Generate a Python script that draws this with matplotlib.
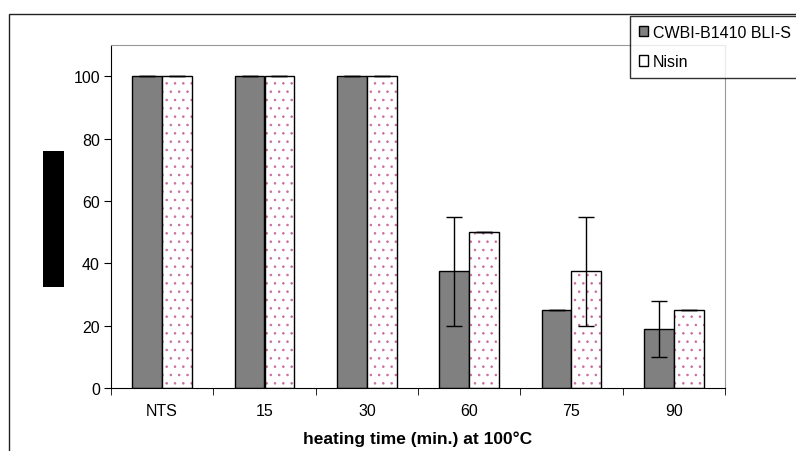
import matplotlib.pyplot as plt
import matplotlib.patches as mpatches
import numpy as np

plt.rcParams['font.family'] = ['Liberation Sans', 'DejaVu Sans']
plt.rcParams['hatch.linewidth'] = 0.6

categories = ['NTS', '15', '30', '60', '75', '90']
cwbi = [100, 100, 100, 37.5, 25, 19]
cwbi_err = [0, 0, 0, 17.5, 0, 9]
nisin = [100, 100, 100, 50, 37.5, 25]
nisin_err = [0, 0, 0, 0, 17.5, 0]
series_names = ['CWBI-B1410 BLI-S', 'Nisin']

fig = plt.figure(figsize=(7.96, 4.52), dpi=100)
ax = fig.add_axes([111 / 796, 63 / 452, 614 / 796, 343 / 452])

# outer chart frame (cut off at right and bottom like the original)
fig.patches.append(mpatches.Rectangle((9 / 796, -0.1), 1.2, 1 - 15 / 452 + 0.1,
                                      transform=fig.transFigure, fill=False,
                                      edgecolor='#222222', linewidth=1.0))
# redacted y label block
fig.patches.append(mpatches.Rectangle((43 / 796, 1 - 288 / 452), 21 / 796, 136 / 452,
                                      transform=fig.transFigure, facecolor='black',
                                      edgecolor='none'))

x = np.arange(len(categories))
w = 0.293
ekw = dict(elinewidth=1, capsize=6, capthick=1, ecolor='black')

ax.bar(x - w / 2, cwbi, w, color='#808080', edgecolor='black', linewidth=1,
       yerr=cwbi_err, error_kw=ekw, zorder=2)
ax.bar(x + w / 2, nisin, w, color='white', edgecolor='#c86ca0', hatch='..',
       linewidth=0, zorder=2)
ax.bar(x + w / 2, nisin, w, fill=False, edgecolor='black', linewidth=1,
       yerr=nisin_err, error_kw=ekw, zorder=3)

ax.set_xlim(-0.5, len(categories) - 0.5)
ax.set_ylim(0, 110)
ax.set_yticks([0, 20, 40, 60, 80, 100])
ax.set_xticks(x)
ax.set_xticklabels(categories)
ax.set_xticks(np.arange(-0.5, len(categories)), minor=True)
ax.tick_params(axis='x', which='major', length=0, pad=11, labelsize=11.5)
ax.tick_params(axis='x', which='minor', length=5, direction='out')
ax.tick_params(axis='y', length=5, direction='out', labelsize=11.5, pad=3)

ax.spines['top'].set_color('#999999')
ax.spines['right'].set_color('#999999')
ax.spines['left'].set_color('black')
ax.spines['bottom'].set_color('black')

ax.set_xlabel('heating time (min.) at 100°C', fontweight='bold', fontsize=12.5, labelpad=9)

handles = [mpatches.Patch(facecolor='#808080', edgecolor='black', label=series_names[0]),
           mpatches.Patch(facecolor='white', edgecolor='black', label=series_names[1])]
fig.legend(handles=handles, loc='upper left', bbox_to_anchor=(630 / 796, 1 - 17 / 452),
           frameon=True, fancybox=False, edgecolor='black', fontsize=11.5,
           handlelength=0.6, handleheight=0.6, handletextpad=0.3,
           borderpad=0.55, labelspacing=0.9, borderaxespad=0)

fig.savefig('out.png', dpi=100)
